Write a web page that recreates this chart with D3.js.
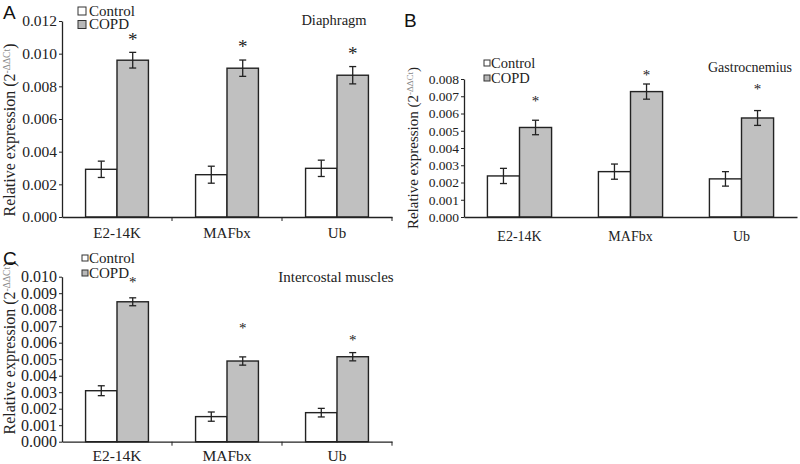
<!DOCTYPE html>
<html><head><meta charset="utf-8">
<script src="https://cdn.jsdelivr.net/npm/d3@7"></script>
<style>body{margin:0;background:#fff}svg{display:block}</style>
</head><body>
<svg id="chart" width="800" height="464"></svg>
<script>
// ---------- data ----------
const categories = ["E2-14K", "MAFbx", "Ub"];
const groups = ["Control", "COPD"];

// Panel A: Diaphragm
const diaphragmControl    = [0.00292, 0.00259, 0.00298];
const diaphragmControlErr = [0.00050, 0.00052, 0.00050];
const diaphragmCOPD       = [0.00960, 0.00911, 0.00868];
const diaphragmCOPDErr    = [0.00048, 0.00050, 0.00053];
const diaphragmStars      = [0.01100, 0.01058, 0.01015];
const diaphragmTicks      = [0, 0.002, 0.004, 0.006, 0.008, 0.010, 0.012];

// Panel B: Gastrocnemius
const gastroControl    = [0.00238, 0.00263, 0.00221];
const gastroControlErr = [0.00044, 0.00044, 0.00042];
const gastroCOPD       = [0.00519, 0.00727, 0.00574];
const gastroCOPDErr    = [0.00042, 0.00044, 0.00043];
const gastroStars      = [0.00680, 0.00831, 0.00750];
const gastroTicks      = [0, 0.001, 0.002, 0.003, 0.004, 0.005, 0.006, 0.007, 0.008];

// Panel C: Intercostal muscles
const interControl    = [0.00309, 0.00152, 0.00176];
const interControlErr = [0.00030, 0.00028, 0.00026];
const interCOPD       = [0.00848, 0.00489, 0.00515];
const interCOPDErr    = [0.00024, 0.00025, 0.00025];
const interStars      = [0.00976, 0.00697, 0.00628];
const interTicks      = [0, 0.001, 0.002, 0.003, 0.004, 0.005, 0.006, 0.007, 0.008, 0.009, 0.010];

// ---------- drawing ----------
const svg = d3.select("#chart");
const serif = "'Liberation Serif','Times New Roman',serif";
const sans = "'Liberation Sans',Arial,sans-serif";
const fmt = d3.format(".3f");

function panel(cfg) {
  const g = svg.append("g");
  const x = d3.scaleBand().domain(categories).range([cfg.x0, cfg.x1]);
  const xs = d3.scaleBand().domain(groups).range([0, x.bandwidth()]).paddingInner(0).paddingOuter(cfg.outer);
  const y = d3.scaleLinear().domain([0, cfg.ymax]).range([cfg.y0, cfg.y1]);

  const rows = categories.map((c, i) => ({
    cat: c,
    vals: [
      {grp: "Control", v: cfg.ctrl[i], e: cfg.ctrlErr[i]},
      {grp: "COPD", v: cfg.copd[i], e: cfg.copdErr[i]}
    ],
    star: cfg.stars[i]
  }));

  // bars
  const cg = g.selectAll("g.cat").data(rows).join("g").attr("transform", d => `translate(${x(d.cat)},0)`);
  cg.selectAll("rect").data(d => d.vals).join("rect")
    .attr("x", d => xs(d.grp)).attr("width", xs.bandwidth())
    .attr("y", d => y(d.v)).attr("height", d => y(0) - y(d.v))
    .attr("fill", d => d.grp === "Control" ? "#ffffff" : "#c0c0c0")
    .attr("stroke", "#222").attr("stroke-width", 1.4);

  // error bars
  const eb = cg.selectAll("g.eb").data(d => d.vals).join("g")
    .attr("stroke", "#222").attr("stroke-width", 1.3);
  const cx = d => xs(d.grp) + xs.bandwidth() / 2;
  eb.append("line").attr("x1", cx).attr("x2", cx).attr("y1", d => y(d.v + d.e)).attr("y2", d => y(d.v - d.e));
  eb.append("line").attr("x1", d => cx(d) - 3.5).attr("x2", d => cx(d) + 3.5).attr("y1", d => y(d.v + d.e)).attr("y2", d => y(d.v + d.e));
  eb.append("line").attr("x1", d => cx(d) - 3.5).attr("x2", d => cx(d) + 3.5).attr("y1", d => y(d.v - d.e)).attr("y2", d => y(d.v - d.e));

  // stars
  cg.append("text")
    .attr("x", xs("COPD") + xs.bandwidth() / 2)
    .attr("y", d => y(d.star) + cfg.starSize * 0.45)
    .attr("text-anchor", "middle").attr("font-family", serif).attr("font-size", cfg.starSize)
    .attr("fill", "#222").text("*");

  // y axis
  const ya = g.append("g").attr("transform", `translate(${cfg.x0},0)`)
    .call(d3.axisLeft(y).tickValues(cfg.ticks).tickFormat(fmt).tickSize(3).tickSizeOuter(0).tickPadding(2));
  ya.select(".domain").attr("stroke", "#222").attr("stroke-width", 1.3);
  ya.selectAll(".tick line").attr("stroke", "#222").attr("stroke-width", 1);
  ya.selectAll("text").attr("font-family", serif).attr("font-size", cfg.tickSize).attr("fill", "#222");

  // x axis
  const xa = g.append("g").attr("transform", `translate(0,${cfg.y0})`)
    .call(d3.axisBottom(x).tickSize(0).tickSizeOuter(0).tickPadding(cfg.labelPad));
  xa.select(".domain").attr("stroke", "#222").attr("stroke-width", 1.3);
  xa.selectAll("text").attr("font-family", serif).attr("font-size", cfg.catSize).attr("fill", "#222");
  if (cfg.xticks) {
    xa.selectAll("line.bt").data(categories).join("line").attr("class", "bt")
      .attr("x1", d => x(d) + x.bandwidth()).attr("x2", d => x(d) + x.bandwidth())
      .attr("y1", 0).attr("y2", 4).attr("stroke", "#222").attr("stroke-width", 1);
  }

  // y label
  const yl = g.append("text")
    .attr("transform", `translate(${cfg.ylx},${cfg.yly}) rotate(-90)`)
    .attr("text-anchor", "middle").attr("font-family", serif).attr("font-size", cfg.ylSize).attr("fill", "#222");
  yl.append("tspan").text("Relative expression (2");
  yl.append("tspan").attr("baseline-shift", "super").attr("font-size", cfg.ylSize * 0.6).attr("fill", "#888").text("-ΔΔCt");
  yl.append("tspan").text(")");

  // title
  g.append("text").attr("x", cfg.titleX).attr("y", cfg.titleY).attr("text-anchor", "middle")
    .attr("font-family", serif).attr("font-size", cfg.titleSize).attr("fill", "#222").text(cfg.title);

  // legend
  const lg = g.append("g").attr("transform", `translate(${cfg.legX},${cfg.legY})`);
  groups.forEach((grp, i) => {
    lg.append("rect").attr("x", 0).attr("y", i * cfg.legStep - cfg.sq / 2).attr("width", cfg.sq).attr("height", cfg.sq)
      .attr("fill", grp === "Control" ? "#fff" : "#b8b8b8").attr("stroke", "#333").attr("stroke-width", 1);
    lg.append("text").attr("x", cfg.sq + cfg.legGap).attr("y", i * cfg.legStep + cfg.legSize * 0.33)
      .attr("font-family", serif).attr("font-size", cfg.legSize).attr("fill", "#222").text(grp);
  });

  // panel letter
  g.append("text").attr("x", cfg.letterX).attr("y", cfg.letterY)
    .attr("font-family", sans).attr("font-size", 19).attr("fill", "#111").text(cfg.letter);
}

panel({
  letter: "A", letterX: 3, letterY: 19,
  x0: 62, x1: 392, y0: 217, y1: 21, ymax: 0.012, outer: 0.75,
  ctrl: diaphragmControl, ctrlErr: diaphragmControlErr, copd: diaphragmCOPD, copdErr: diaphragmCOPDErr,
  stars: diaphragmStars, starSize: 19, ticks: diaphragmTicks, tickSize: 15.5, catSize: 15, labelPad: 10, xticks: true,
  ylx: 15, yly: 130, ylSize: 16,
  title: "Diaphragm", titleX: 334, titleY: 25, titleSize: 14.5,
  legX: 78, legY: 11, sq: 8, legGap: 3, legStep: 13.5, legSize: 15
});

panel({
  letter: "B", letterX: 404, letterY: 27,
  x0: 464, x1: 797, y0: 217, y1: 79, ymax: 0.008, outer: 0.73,
  ctrl: gastroControl, ctrlErr: gastroControlErr, copd: gastroCOPD, copdErr: gastroCOPDErr,
  stars: gastroStars, starSize: 15, ticks: gastroTicks, tickSize: 13.5, catSize: 14, labelPad: 14, xticks: false,
  ylx: 418, yly: 148, ylSize: 15,
  title: "Gastrocnemius", titleX: 750, titleY: 72, titleSize: 14,
  legX: 484, legY: 63, sq: 6, legGap: 1, legStep: 15, legSize: 14.5
});

panel({
  letter: "C", letterX: 3, letterY: 265,
  x0: 62, x1: 392, y0: 441.7, y1: 276.7, ymax: 0.010, outer: 0.75,
  ctrl: interControl, ctrlErr: interControlErr, copd: interCOPD, copdErr: interCOPDErr,
  stars: interStars, starSize: 15, ticks: interTicks, tickSize: 16, catSize: 15.5, labelPad: 8, xticks: true,
  ylx: 15, yly: 348, ylSize: 16,
  title: "Intercostal muscles", titleX: 336, titleY: 282, titleSize: 15,
  legX: 82, legY: 258, sq: 6, legGap: 1, legStep: 15, legSize: 15
});
</script>
</body></html>
